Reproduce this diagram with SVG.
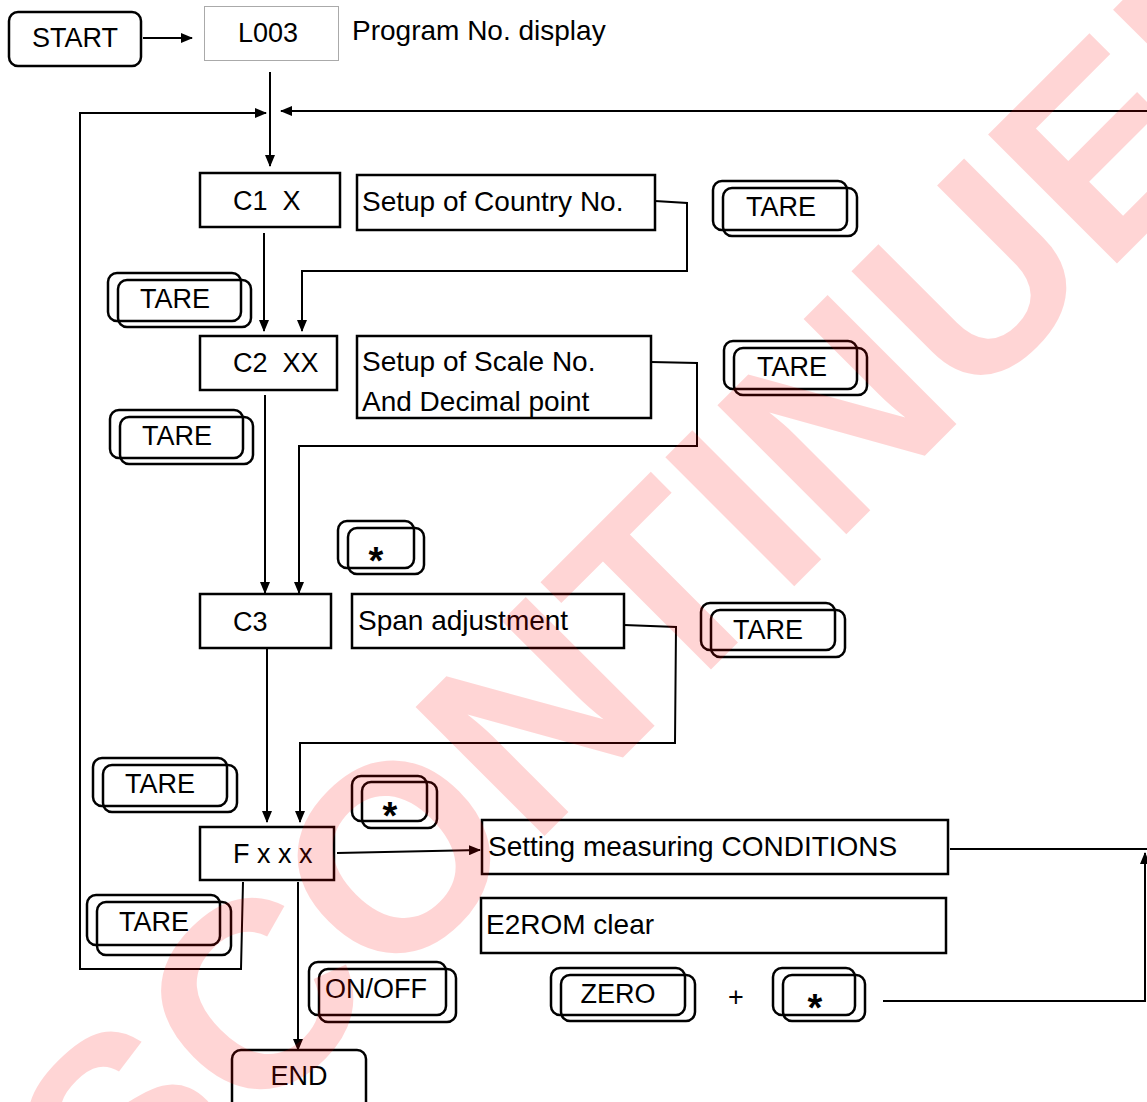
<svg xmlns="http://www.w3.org/2000/svg" width="1147" height="1102" viewBox="0 0 1147 1102">
<defs>
<style>
text{font-family:"Liberation Sans",Arial,sans-serif;fill:#000}
.t{font-size:27px}
.d{font-size:28px}
.s{font-size:38px;font-weight:bold}
.box{fill:#fff;stroke:#000;stroke-width:2.5}
.key{fill:none;stroke:#000;stroke-width:2.5}
.ln{fill:none;stroke:#000;stroke-width:2}
.wm{font-size:265px;font-weight:bold;fill:#ff0000;fill-opacity:0.165}
</style>
<marker id="ah" markerUnits="userSpaceOnUse" markerWidth="12" markerHeight="10" refX="11" refY="5" orient="auto">
<path d="M0,0 L12,5 L0,10 Z" fill="#000"/>
</marker>
</defs>
<rect width="1147" height="1102" fill="#fff"/>

<g id="connectors">
<line class="ln" x1="143" y1="38" x2="192" y2="38" marker-end="url(#ah)"/>
<line class="ln" x1="270" y1="72" x2="270" y2="166" marker-end="url(#ah)"/>
<polyline class="ln" points="243,882 241,969 80,969 80,113 266,113" marker-end="url(#ah)"/>
<line class="ln" x1="1150" y1="111" x2="281" y2="111" marker-end="url(#ah)"/>
<polyline class="ln" points="655,201 687,203 687,271 302,271 302,331" marker-end="url(#ah)"/>
<line class="ln" x1="264" y1="233" x2="264" y2="331" marker-end="url(#ah)"/>
<polyline class="ln" points="651,362 697,363 697,446 299,446 299,593" marker-end="url(#ah)"/>
<line class="ln" x1="265" y1="395" x2="265" y2="593" marker-end="url(#ah)"/>
<polyline class="ln" points="624,625 676,627 675,743 300,743 300,822" marker-end="url(#ah)"/>
<line class="ln" x1="267" y1="646" x2="267" y2="822" marker-end="url(#ah)"/>
<line class="ln" x1="337" y1="853" x2="480" y2="850" marker-end="url(#ah)"/>
<line class="ln" x1="950" y1="849" x2="1150" y2="849"/>
<polyline class="ln" points="883,1001 1145,1001 1145,853" marker-end="url(#ah)"/>
<line class="ln" x1="298" y1="882" x2="298" y2="1050" marker-end="url(#ah)"/>
</g>

<g id="start">
<rect class="box" x="9" y="12" width="132" height="54" rx="9"/>
<text class="t" x="75" y="47" text-anchor="middle">START</text>
</g>
<g id="l003">
<rect x="204.5" y="6.5" width="134" height="54" fill="#fff" stroke="#555" stroke-width="1" stroke-dasharray="1,1"/>
<text class="t" x="268" y="42" text-anchor="middle">L003</text>
</g>
<g id="program-label">
<text class="d" x="352" y="40">Program No. display</text>
</g>

<g id="c1">
<rect class="box" x="200" y="173" width="140" height="54"/>
<text class="t" x="233" y="210" xml:space="preserve">C1  X</text>
</g>
<g id="setup-country">
<rect class="box" x="357" y="175" width="298" height="55"/>
<text class="d" x="362" y="211">Setup of Country No.</text>
</g>
<g id="tare-1">
<rect class="key" x="713" y="181" width="134" height="49" rx="9"/>
<rect class="key" x="723" y="188" width="134" height="48" rx="9"/>
<text class="t" x="781" y="216" text-anchor="middle">TARE</text>
</g>
<g id="tare-2">
<rect class="key" x="108" y="273" width="133" height="48" rx="9"/>
<rect class="key" x="118" y="280" width="133" height="47" rx="9"/>
<text class="t" x="175" y="308" text-anchor="middle">TARE</text>
</g>

<g id="c2">
<rect class="box" x="200" y="336" width="137" height="54"/>
<text class="t" x="233" y="372" xml:space="preserve">C2  XX</text>
</g>
<g id="setup-scale">
<rect class="box" x="357" y="336" width="294" height="82"/>
<text class="d" x="362" y="371">Setup of Scale No.</text>
<text class="d" x="362" y="411">And Decimal point</text>
</g>
<g id="tare-3">
<rect class="key" x="724" y="341" width="133" height="48" rx="9"/>
<rect class="key" x="734" y="348" width="133" height="47" rx="9"/>
<text class="t" x="792" y="376" text-anchor="middle">TARE</text>
</g>
<g id="tare-4">
<rect class="key" x="110" y="410" width="133" height="48" rx="9"/>
<rect class="key" x="120" y="417" width="133" height="47" rx="9"/>
<text class="t" x="177" y="445" text-anchor="middle">TARE</text>
</g>
<g id="star-1">
<rect class="key" x="338" y="521" width="76" height="47" rx="9"/>
<rect class="key" x="348" y="528" width="76" height="46" rx="9"/>
<text class="s" x="376" y="574" text-anchor="middle">*</text>
</g>

<g id="c3">
<rect class="box" x="200" y="594" width="131" height="54"/>
<text class="t" x="233" y="631">C3</text>
</g>
<g id="span">
<rect class="box" x="352" y="594" width="272" height="54"/>
<text class="d" x="358" y="630">Span adjustment</text>
</g>
<g id="tare-5">
<rect class="key" x="701" y="603" width="134" height="47" rx="9"/>
<rect class="key" x="711" y="610" width="134" height="47" rx="9"/>
<text class="t" x="768" y="639" text-anchor="middle">TARE</text>
</g>
<g id="tare-6">
<rect class="key" x="93" y="758" width="134" height="48" rx="9"/>
<rect class="key" x="103" y="765" width="134" height="47" rx="9"/>
<text class="t" x="160" y="793" text-anchor="middle">TARE</text>
</g>
<g id="star-2">
<rect class="key" x="352" y="776" width="75" height="45" rx="9"/>
<rect class="key" x="362" y="782" width="75" height="46" rx="9"/>
<text class="s" x="390" y="829" text-anchor="middle">*</text>
</g>

<g id="fxxx">
<rect class="box" x="200" y="827" width="134" height="53"/>
<text class="t" x="233" y="863">F x x x</text>
</g>
<g id="setting">
<rect class="box" x="482" y="820" width="466" height="54"/>
<text class="d" x="488" y="856">Setting measuring CONDITIONS</text>
</g>
<g id="e2rom">
<rect class="box" x="481" y="898" width="465" height="55"/>
<text class="d" x="486" y="934">E2ROM clear</text>
</g>
<g id="tare-7">
<rect class="key" x="87" y="895" width="133" height="50" rx="9"/>
<rect class="key" x="97" y="902" width="134" height="53" rx="9"/>
<text class="t" x="154" y="931" text-anchor="middle">TARE</text>
</g>
<g id="onoff">
<rect class="key" x="309" y="962" width="137" height="53" rx="9"/>
<rect class="key" x="319" y="969" width="137" height="53" rx="9"/>
<text class="t" x="325" y="998">ON/OFF</text>
</g>
<g id="zero">
<rect class="key" x="551" y="968" width="134" height="47" rx="9"/>
<rect class="key" x="561" y="975" width="134" height="46" rx="9"/>
<text class="t" x="618" y="1003" text-anchor="middle">ZERO</text>
</g>
<g id="plus">
<text class="t" x="736" y="1006" text-anchor="middle">+</text>
</g>
<g id="star-3">
<rect class="key" x="773" y="968" width="82" height="47" rx="9"/>
<rect class="key" x="783" y="975" width="82" height="46" rx="9"/>
<text class="s" x="815" y="1021" text-anchor="middle">*</text>
</g>
<g id="end">
<rect class="box" x="232" y="1050" width="134" height="62" rx="9"/>
<text class="t" x="299" y="1085" text-anchor="middle">END</text>
</g>

<g id="watermark">
<text class="wm" transform="translate(-61.5,1442) rotate(-45)">DISCONTINUED</text>
</g>
</svg>
